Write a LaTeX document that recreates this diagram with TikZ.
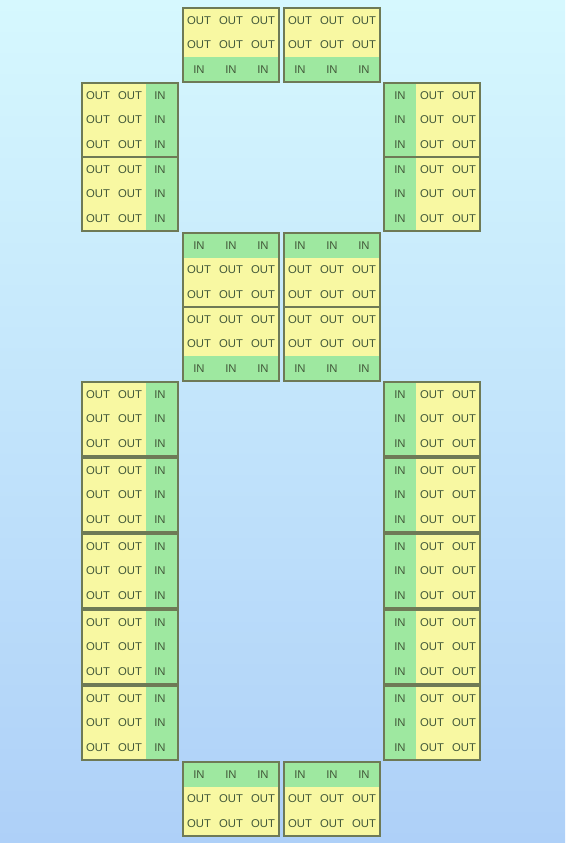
\documentclass[tikz,border=0pt]{standalone}
\usepackage{fontspec}
\setmainfont{Liberation Sans}
\definecolor{bgtop}{HTML}{D6F8FE}
\definecolor{bgbot}{HTML}{AED0F8}
\definecolor{yel}{HTML}{F8F8A2}
\definecolor{grn}{HTML}{9EE8A0}
\definecolor{frame}{HTML}{6E7A56}
\definecolor{ink}{HTML}{43593A}
\tikzset{
  txt/.style={font=\fontsize{11.3}{13}\selectfont, text=ink, inner sep=0pt},
  blockbox/.style={draw=frame, line width=1.8pt, minimum width=96pt, minimum height=74pt, inner sep=0pt}
}
% #1 name, #2 x, #3 y
\newcommand{\blkT}[3]{%
 \begin{scope}[shift={(#2,#3)}]
  \fill[yel] (0,0) rectangle (96,74);
  \fill[grn] (0,0) rectangle (96,24.67);
  \foreach \c in {0,1,2}{
    \node[txt] (#1-0\c) at (16+32*\c,12.33) {IN};
    \node[txt] (#1-1\c) at (16+32*\c,37) {OUT};
    \node[txt] (#1-2\c) at (16+32*\c,61.67) {OUT};}
  \node[blockbox] (#1) at (48,37) {};
 \end{scope}}
\newcommand{\blkB}[3]{%
 \begin{scope}[shift={(#2,#3)}]
  \fill[yel] (0,0) rectangle (96,74);
  \fill[grn] (0,49.33) rectangle (96,74);
  \foreach \c in {0,1,2}{
    \node[txt] (#1-0\c) at (16+32*\c,12.33) {OUT};
    \node[txt] (#1-1\c) at (16+32*\c,37) {OUT};
    \node[txt] (#1-2\c) at (16+32*\c,61.67) {IN};}
  \node[blockbox] (#1) at (48,37) {};
 \end{scope}}
\newcommand{\blkR}[3]{%
 \begin{scope}[shift={(#2,#3)}]
  \fill[yel] (0,0) rectangle (96,74);
  \fill[grn] (64,0) rectangle (96,74);
  \foreach \r in {0,1,2}{
    \node[txt] (#1-\r0) at (16,12.33+24.67*\r) {OUT};
    \node[txt] (#1-\r1) at (48,12.33+24.67*\r) {OUT};
    \node[txt] (#1-\r2) at (78,12.33+24.67*\r) {IN};}
  \node[blockbox] (#1) at (48,37) {};
 \end{scope}}
\newcommand{\blkL}[3]{%
 \begin{scope}[shift={(#2,#3)}]
  \fill[yel] (0,0) rectangle (96,74);
  \fill[grn] (0,0) rectangle (32,74);
  \foreach \r in {0,1,2}{
    \node[txt] (#1-\r0) at (16,12.33+24.67*\r) {IN};
    \node[txt] (#1-\r1) at (48,12.33+24.67*\r) {OUT};
    \node[txt] (#1-\r2) at (80,12.33+24.67*\r) {OUT};}
  \node[blockbox] (#1) at (48,37) {};
 \end{scope}}
\begin{document}
\begin{tikzpicture}[x=1pt,y=-1pt]
\shade[top color=bgtop, bottom color=bgbot] (0,0) rectangle (565,843);
\useasboundingbox (0,0) rectangle (565,843);
% top
\blkB{a1}{183}{8}
\blkB{a2}{284}{8}
% upper sides
\blkR{l1}{82}{83}
\blkR{l2}{82}{157}
\blkL{r1}{384}{83}
\blkL{r2}{384}{157}
% middle
\blkT{m1}{183}{233}
\blkT{m2}{284}{233}
\blkB{m3}{183}{307}
\blkB{m4}{284}{307}
% lower sides
\blkR{l3}{82}{382}
\blkR{l4}{82}{458}
\blkR{l5}{82}{534}
\blkR{l6}{82}{610}
\blkR{l7}{82}{686}
\blkL{r3}{384}{382}
\blkL{r4}{384}{458}
\blkL{r5}{384}{534}
\blkL{r6}{384}{610}
\blkL{r7}{384}{686}
% bottom
\blkT{b1}{183}{762}
\blkT{b2}{284}{762}
\end{tikzpicture}
\end{document}
